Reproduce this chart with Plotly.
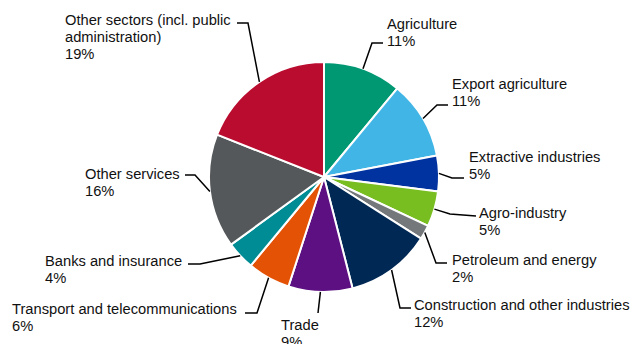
import math
import plotly.graph_objects as go

# Sector shares (percent), clockwise from 12 o'clock
sectors = [
    "Agriculture",
    "Export agriculture",
    "Extractive industries",
    "Agro-industry",
    "Petroleum and energy",
    "Construction and other industries",
    "Trade",
    "Transport and telecommunications",
    "Banks and insurance",
    "Other services",
    "Other sectors (incl. public administration)",
]
shares = [11, 11, 5, 5, 2, 12, 9, 6, 4, 16, 19]
label_lines = [
    ["Agriculture"],
    ["Export agriculture"],
    ["Extractive industries"],
    ["Agro-industry"],
    ["Petroleum and energy"],
    ["Construction and other industries"],
    ["Trade"],
    ["Transport and telecommunications"],
    ["Banks and insurance"],
    ["Other services"],
    ["Other sectors (incl. public", "administration)"],
]
colors = [
    "#009873", "#41B6E6", "#0033A0", "#78BE20", "#75787B", "#002855",
    "#5C1082", "#E35205", "#008C95", "#54585A", "#BA0C2F",
]

# Canvas and pie geometry (pixels)
W, H = 632, 344
CX, CY, R = 324, 177, 115
FONT_SIZE = 14.7
LINE_STEP = 17

# Label block placement: (left x, centre y of first line) and leader elbow / end points
label_xy = [
    (385, 24), (450, 83.5), (467, 157), (477, 213), (450, 260), (412, 305),
    (279, 325), (10, 309), (43, 261), (83, 174), (63, 20),
]
elbows = [
    (372, 43), (437, 105), (452, 178), (450, 214), (436, 263), (400, 308),
    (318, 313), (257, 313), (200, 264), (195, 175), (248, 23),
]
ends = [
    (383, 43), (448, 105), (464, 178), (476, 216), (447, 263), (411, 308),
    (318, 313), (245, 313), (188, 264), (185, 175), (237, 23),
]

fig = go.Figure()
fig.add_trace(go.Pie(
    labels=sectors,
    values=shares,
    sort=False,
    direction="clockwise",
    rotation=0,
    textinfo="none",
    hoverinfo="label+percent",
    marker=dict(colors=colors, line=dict(color="white", width=2)),
    domain=dict(x=[(CX - R) / W, (CX + R) / W], y=[1 - (CY + R) / H, 1 - (CY - R) / H]),
    showlegend=False,
))

shapes = []
annotations = []
total = sum(shares)
cum = 0
for i, v in enumerate(shares):
    mid = (cum + v / 2) / total * 2 * math.pi
    cum += v
    ex = CX + R * math.sin(mid)
    ey = CY - R * math.cos(mid)
    bx, by = elbows[i]
    tx, ty = ends[i]
    shapes.append(dict(
        type="path", xref="x", yref="y",
        path=f"M {ex:.1f},{ey:.1f} L {bx},{by} L {tx},{ty}",
        line=dict(color="black", width=1.5),
    ))
    lx, ly = label_xy[i]
    for k, line in enumerate(label_lines[i] + [f"{v}%"]):
        annotations.append(dict(
            x=lx, y=ly + k * LINE_STEP, xref="x", yref="y",
            xanchor="left", yanchor="middle",
            text=line, showarrow=False, align="left",
            font=dict(family="Liberation Sans, Arial, sans-serif", size=FONT_SIZE, color="#111"),
        ))

fig.update_layout(
    width=W, height=H,
    margin=dict(l=0, r=0, t=0, b=0),
    paper_bgcolor="white", plot_bgcolor="white",
    xaxis=dict(range=[0, W], visible=False, fixedrange=True),
    yaxis=dict(range=[H, 0], visible=False, fixedrange=True),
    shapes=shapes,
    annotations=annotations,
)

fig.write_html("out.html")
